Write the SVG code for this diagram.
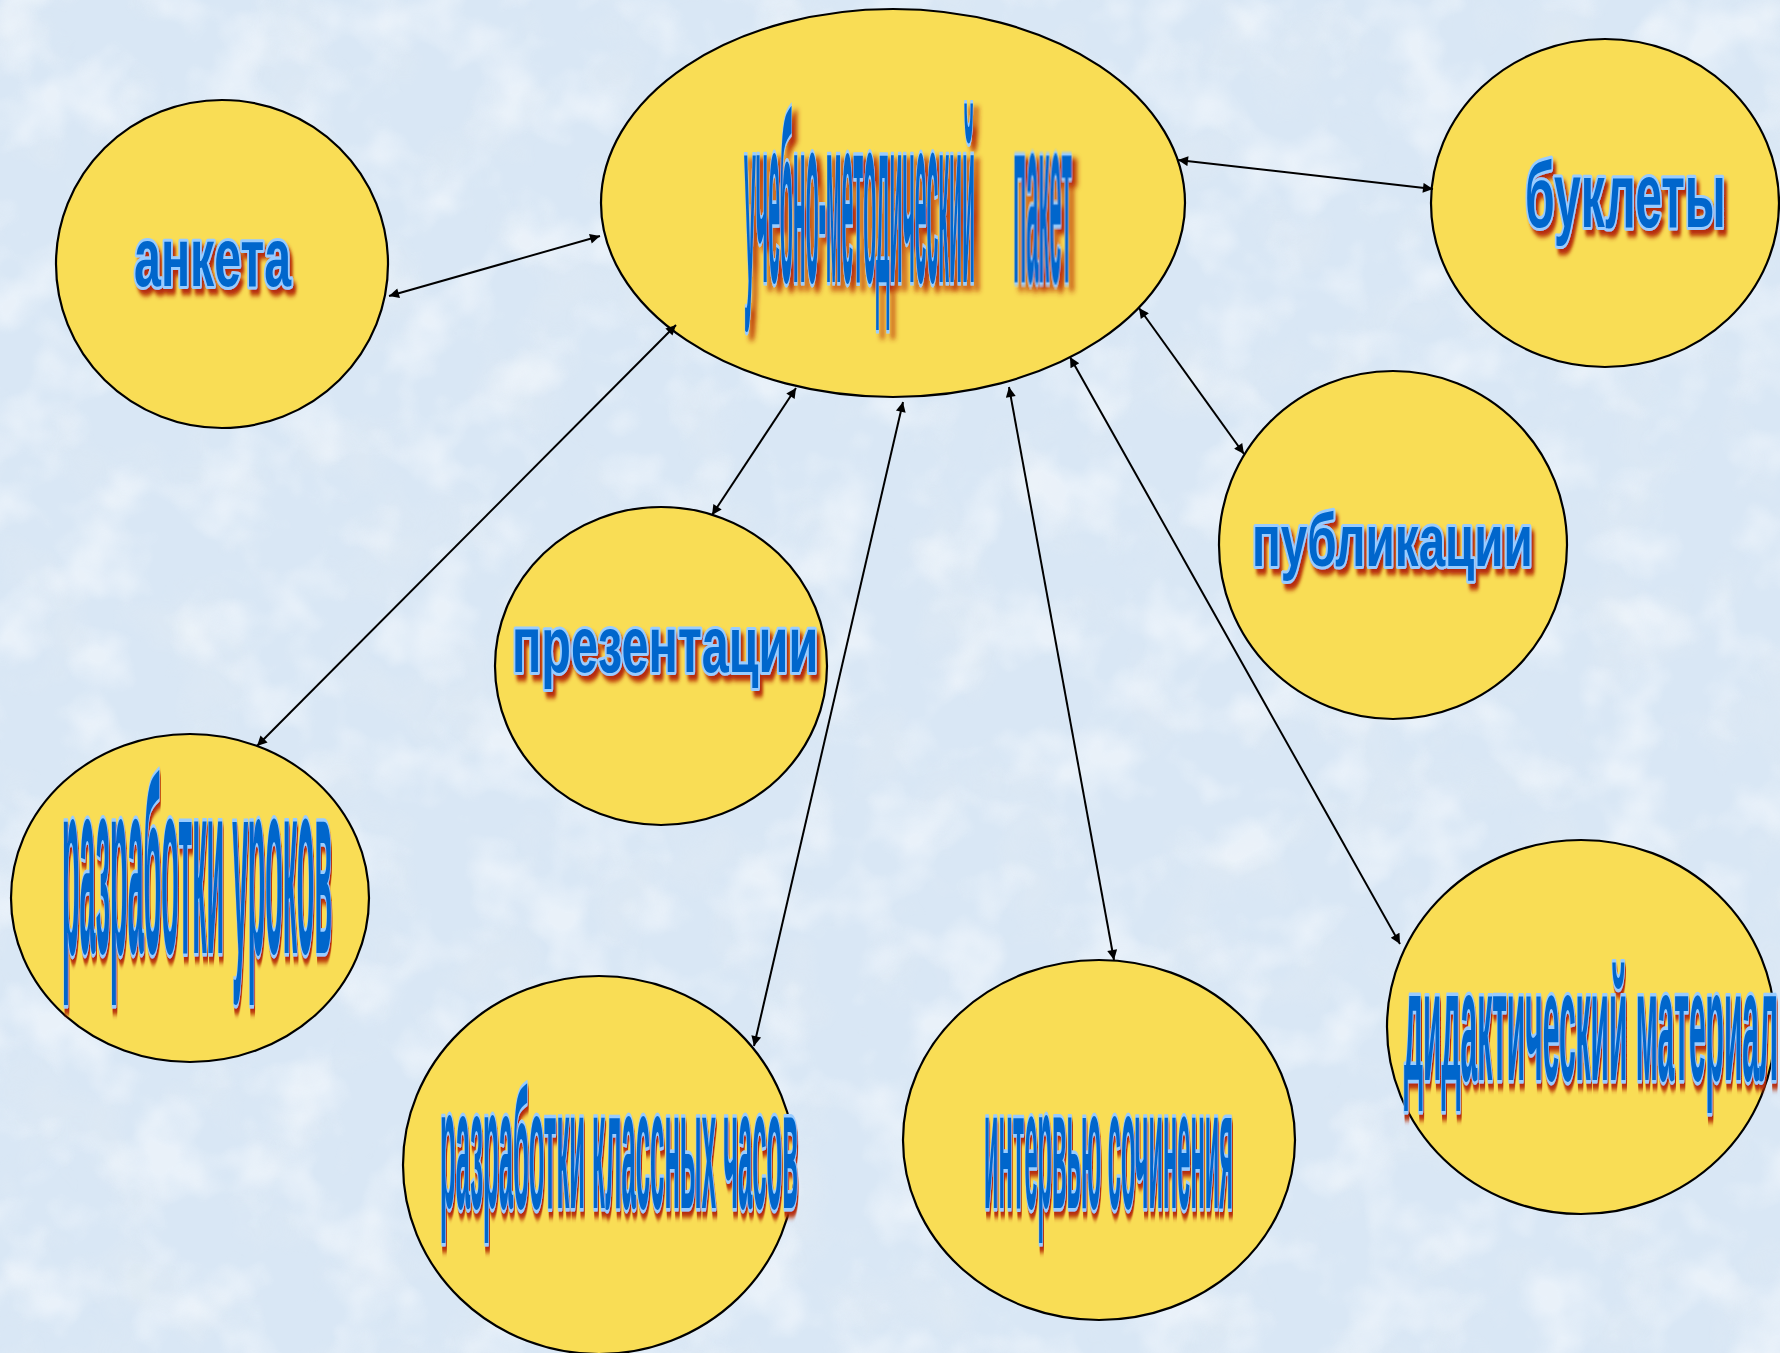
<svg xmlns="http://www.w3.org/2000/svg" width="1780" height="1353" viewBox="0 0 1780 1353">
<defs>
<style>
.node{fill:#F9DD55;stroke:#000;stroke-width:2.2}
.lbl{font-family:"Liberation Sans","DejaVu Sans",sans-serif;font-weight:bold;fill:#0066CC;stroke:#99CCFF;stroke-width:5;paint-order:stroke;stroke-linejoin:round;vector-effect:non-scaling-stroke}
.sh{filter:url(#sh)}
.con{stroke:#000;stroke-width:2;fill:none;marker-start:url(#ah);marker-end:url(#ah)}
</style>
<marker id="ah" viewBox="0 0 10 10" refX="10" refY="5" markerWidth="14" markerHeight="10" markerUnits="userSpaceOnUse" orient="auto-start-reverse">
<path d="M0,0 L10,5 L0,10 z" fill="#000"/>
</marker>
<filter id="sh" x="-10%" y="-20%" width="125%" height="150%">
<feGaussianBlur in="SourceAlpha" stdDeviation="2.5"/>
<feOffset dx="5" dy="6" result="b"/>
<feFlood flood-color="#B52A08"/>
<feComposite in2="b" operator="in" result="s"/>
<feMerge><feMergeNode in="s"/><feMergeNode in="SourceGraphic"/></feMerge>
</filter>
<filter id="texD" x="0" y="0" width="100%" height="100%">
<feTurbulence type="fractalNoise" baseFrequency="0.012" numOctaves="3" seed="4"/>
<feColorMatrix type="matrix" values="0 0 0 0 0.76  0 0 0 0 0.83  0 0 0 0 0.9  3 0 0 0 -1.5"/>
</filter>
<filter id="texL" x="0" y="0" width="100%" height="100%">
<feTurbulence type="fractalNoise" baseFrequency="0.015" numOctaves="3" seed="11"/>
<feColorMatrix type="matrix" values="0 0 0 0 0.93  0 0 0 0 0.96  0 0 0 0 0.99  3 0 0 0 -1.4"/>
</filter>
</defs>
<rect width="1780" height="1353" fill="#D9E7F5"/>
<rect width="1780" height="1353" filter="url(#texD)" opacity="0.5"/>
<rect width="1780" height="1353" filter="url(#texL)" opacity="0.55"/>

<g id="node-center">
<ellipse class="node" cx="893" cy="203" rx="292" ry="194"/>
<g class="sh">
<text class="lbl" transform="translate(744,282) scale(0.09,1)" font-size="240" textLength="2567" lengthAdjust="spacingAndGlyphs">учебно-методический</text>
<text class="lbl" transform="translate(1013,282) scale(0.09,1)" font-size="240" textLength="655" lengthAdjust="spacingAndGlyphs">пакет</text>
</g>
</g>
<g id="node-anketa">
<ellipse class="node" cx="222" cy="264" rx="166" ry="164"/>
<text class="lbl sh" transform="translate(134,286) scale(0.58,1)" font-size="84" textLength="271" lengthAdjust="spacingAndGlyphs">анкета</text>
</g>
<g id="node-buklety">
<ellipse class="node" cx="1605" cy="203" rx="174" ry="164"/>
<text class="lbl sh" transform="translate(1525,227) scale(0.54,1)" font-size="92" textLength="372" lengthAdjust="spacingAndGlyphs">буклеты</text>
</g>
<g id="node-publikacii">
<ellipse class="node" cx="1393" cy="545" rx="174" ry="174"/>
<text class="lbl sh" transform="translate(1252,566) scale(0.65,1)" font-size="74" textLength="432" lengthAdjust="spacingAndGlyphs">публикации</text>
</g>
<g id="node-prezentacii">
<ellipse class="node" cx="661" cy="666" rx="166" ry="159"/>
<text class="lbl sh" transform="translate(512,672) scale(0.62,1)" font-size="80" textLength="494" lengthAdjust="spacingAndGlyphs">презентации</text>
</g>
<g id="node-uroki">
<ellipse class="node" cx="190" cy="898" rx="179" ry="164"/>
<text class="lbl sh" transform="translate(62,953) scale(0.117,1)" font-size="248" textLength="2308" lengthAdjust="spacingAndGlyphs">разработки уроков</text>
</g>
<g id="node-klassnye">
<ellipse class="node" cx="599" cy="1165" rx="196" ry="189"/>
<text class="lbl sh" transform="translate(440,1208) scale(0.154,1)" font-size="170" textLength="2325" lengthAdjust="spacingAndGlyphs">разработки классных часов</text>
</g>
<g id="node-intervyu">
<ellipse class="node" cx="1099" cy="1140" rx="196" ry="180"/>
<text class="lbl sh" transform="translate(984,1208) scale(0.142,1)" font-size="170" textLength="1754" lengthAdjust="spacingAndGlyphs">интервью сочинения</text>
</g>
<g id="node-didaktika">
<ellipse class="node" cx="1581" cy="1027" rx="194" ry="187"/>
<text class="lbl sh" transform="translate(1404,1080) scale(0.192,1)" font-size="158" textLength="1948" lengthAdjust="spacingAndGlyphs">дидактический материал</text>
</g>

<g id="connectors">
<line class="con" x1="389" y1="296" x2="600" y2="236"/>
<line class="con" x1="1178" y1="160" x2="1433" y2="189"/>
<line class="con" x1="1139" y1="308" x2="1244" y2="454"/>
<line class="con" x1="676" y1="325" x2="257" y2="746"/>
<line class="con" x1="796" y1="388" x2="712" y2="515"/>
<line class="con" x1="903" y1="402" x2="754" y2="1046"/>
<line class="con" x1="1009" y1="387" x2="1114" y2="960"/>
<line class="con" x1="1070" y1="357" x2="1400" y2="944"/>
</g>
</svg>
